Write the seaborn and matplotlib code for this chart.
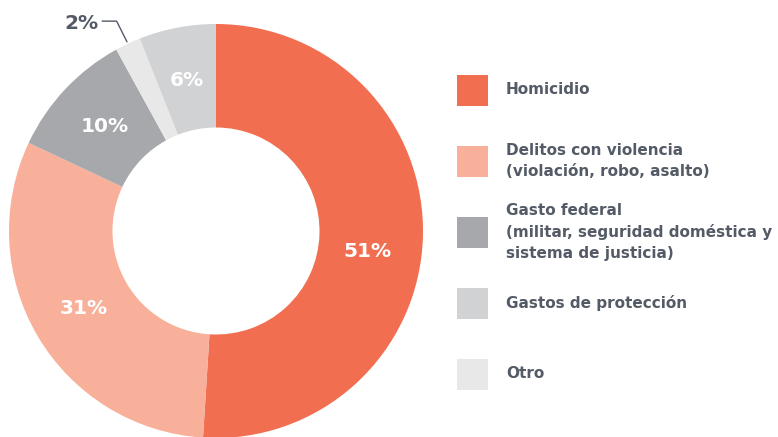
import numpy as np
import matplotlib.pyplot as plt
import seaborn as sns
from matplotlib.patches import Rectangle

# data (clockwise from the top of the ring)
categorias = ["Homicidio", "Delitos con violencia\n(violación, robo, asalto)",
              "Gasto federal\n(militar, seguridad doméstica y\nsistema de justicia)",
              "Otro", "Gastos de protección"]
valores = [51, 31, 10, 2, 6]
colores = ["#F26E50", "#F8B09A", "#A7A8AB", "#E8E8E8", "#D1D2D4"]

# legend order as in the reference
orden_leyenda = [0, 1, 2, 4, 3]

sns.set_theme(style="white")
plt.rcParams['font.family'] = ['DejaVu Sans']
texto = "#545B66"

fig = plt.figure(figsize=(7.78, 4.37), dpi=100)
ax = fig.add_axes([9 / 778, -1 / 437, 414 / 778, 414 / 437])

wedges, _ = ax.pie(valores, colors=colores, startangle=90, counterclock=False,
                   radius=1.0, wedgeprops=dict(width=0.5, linewidth=0))
ax.set_xlim(-1, 1)
ax.set_ylim(-1, 1)
ax.set_aspect("equal")

for w, v in zip(wedges, valores):
    ang = np.deg2rad((w.theta1 + w.theta2) / 2)
    if v >= 5:
        if v == 51:
            ang -= np.deg2rad(6)
        ax.text(0.74 * np.cos(ang), 0.74 * np.sin(ang), f"{v}%", ha="center",
                va="center", color="white", fontsize=14.5, fontweight="bold")
    else:
        x0, y0 = 1.01 * np.cos(ang), 1.01 * np.sin(ang)
        ax.plot([x0, x0 - 0.05, x0 - 0.12], [y0, y0 + 0.1, y0 + 0.1],
                color=texto, lw=1, clip_on=False)
        ax.text(x0 - 0.14, y0 + 0.09, f"{v}%", ha="right", va="center",
                color=texto, fontsize=14.5, fontweight="bold")

# legend
lax = fig.add_axes([0, 0, 1, 1])
lax.set_xlim(0, 778)
lax.set_ylim(437, 0)
lax.axis("off")
for k, i in enumerate(orden_leyenda):
    yc = 90 + k * 71
    lax.add_patch(Rectangle((457, yc - 15.5), 31, 31, color=colores[i], lw=0))
    lax.text(506, yc, categorias[i], ha="left", va="center", color=texto,
             fontsize=11, fontweight="bold", linespacing=1.5)

plt.savefig("out.png", dpi=100)
